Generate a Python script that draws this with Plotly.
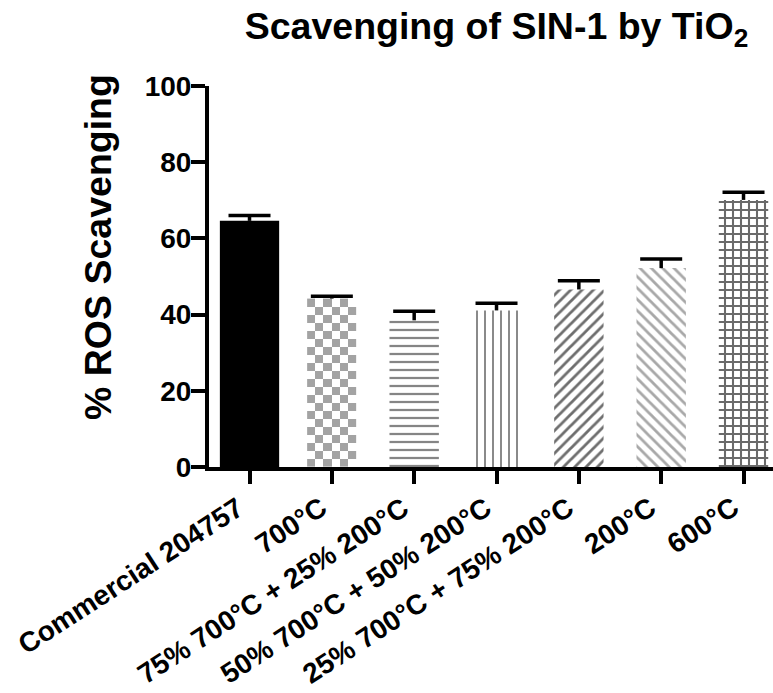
import plotly.graph_objects as go

categories = ["Commercial 204757", "700°C", "75% 700°C + 25% 200°C",
              "50% 700°C + 50% 200°C", "25% 700°C + 75% 200°C", "200°C", "600°C"]
values = [64.6, 44.2, 38.5, 41.1, 46.6, 52.2, 70.1]
errors = [1.4, 0.6, 2.4, 1.9, 2.3, 2.4, 2.0]
y_ticks = [0, 20, 40, 60, 80, 100]

FONT = "Liberation Sans, Arial, sans-serif"
xpos = list(range(len(categories)))

# styles (one per bar)
widths = [0.72, 0.6, 0.6, 0.55, 0.6, 0.6, 0.6]
fills = ["black", "rgba(0,0,0,0)", "white", "white", "white", "white", "white"]
shapes = ["", "", "-", "|", "/", "\\", "+"]
fgcols = ["black", "black", "#858585", "#8a8a8a", "#6e6e6e", "#a8a8a8", "#6a6a6a"]
solid = [0.3, 0.3, 0.28, 0.25, 0.35, 0.35, 0.45]

PLOT_L, PLOT_R, PLOT_T, PLOT_B = 209, 773, 86, 467
W, H = 773, 693

fig = go.Figure()

# checkerboard fill for the 700°C bar (heatmap drawn below the bar layer)
ci = 1
ncols = 6
cell_h = 2.1
nrows = max(1, round(values[ci] / cell_h))
x0 = xpos[ci] - widths[ci] / 2
xe = [x0 + widths[ci] * k / ncols for k in range(ncols + 1)]
ye = [values[ci] * k / nrows for k in range(nrows + 1)]
z = [[(r + c + 1) % 2 for c in range(ncols)] for r in range(nrows)]
fig.add_trace(go.Heatmap(x=xe, y=ye, z=z, zmin=0, zmax=1,
                         colorscale=[[0, "white"], [1, "#a3a3a3"]],
                         showscale=False, hoverinfo="skip"))

for i, (xp, v) in enumerate(zip(xpos, values)):
    marker = dict(color=fills[i], line=dict(width=0))
    if shapes[i]:
        marker["pattern"] = dict(shape=shapes[i], fgcolor=fgcols[i], bgcolor="white",
                                 size=8, solidity=solid[i], fillmode="replace")
    fig.add_trace(go.Bar(x=[xp], y=[v], width=[widths[i]], marker=marker,
                         showlegend=False, hoverinfo="skip"))

# error bars: upward stem + top cap only
tops = [v + e for v, e in zip(values, errors)]
fig.add_trace(go.Scatter(
    x=xpos, y=tops, mode="markers",
    marker=dict(symbol="line-ew", size=30, color="black",
                line=dict(width=3.5, color="black")),
    error_y=dict(type="data", symmetric=False, array=[0] * len(errors),
                 arrayminus=errors, color="black", thickness=3.5, width=0),
    showlegend=False, hoverinfo="skip"))

annotations = [dict(text="% ROS Scavenging", textangle=-90,
                    xref="paper", yref="paper",
                    x=(98 - PLOT_L) / (PLOT_R - PLOT_L),
                    y=(PLOT_B - 247) / (PLOT_B - PLOT_T),
                    xanchor="center", yanchor="middle", showarrow=False,
                    font=dict(family=FONT, size=37.5, color="black", weight="bold"))]
for xp, lab in zip(xpos, categories):
    annotations.append(dict(text=lab, textangle=-33, xref="x", yref="paper",
                            x=xp + 0.02, y=(PLOT_B - 490) / (PLOT_B - PLOT_T),
                            xanchor="right", yanchor="top", showarrow=False,
                            borderpad=0,
                            font=dict(family=FONT, size=28, color="black", weight="bold")))

fig.update_layout(
    width=W, height=H,
    margin=dict(l=PLOT_L, r=W - PLOT_R, t=PLOT_T, b=H - PLOT_B, pad=0),
    paper_bgcolor="white", plot_bgcolor="white",
    showlegend=False, barmode="overlay",
    title=dict(text="Scavenging of SIN-1 by TiO<sub>2</sub>",
               font=dict(family=FONT, size=37.5, color="black", weight="bold"),
               x=496.5 / W, xanchor="center", xref="container",
               y=1 - 13 / H, yanchor="top", yref="container"),
    xaxis=dict(range=[-0.492, 6.358], tickmode="array", tickvals=xpos,
               showticklabels=False, automargin=False,
               showline=True, linewidth=4, linecolor="black",
               ticks="outside", ticklen=13, tickwidth=4, tickcolor="black",
               showgrid=False, zeroline=False),
    yaxis=dict(range=[0, 100], tickmode="array", tickvals=y_ticks, automargin=False,
               showline=True, linewidth=4, linecolor="black",
               ticks="outside", ticklen=14, tickwidth=4, tickcolor="black",
               showgrid=False, zeroline=False, ticklabelstandoff=-6,
               tickfont=dict(family=FONT, size=28, color="black", weight="bold")),
    annotations=annotations,
)

fig.write_html("out.html", config={"displayModeBar": False},
               post_script="document.body.style.margin='0';")
